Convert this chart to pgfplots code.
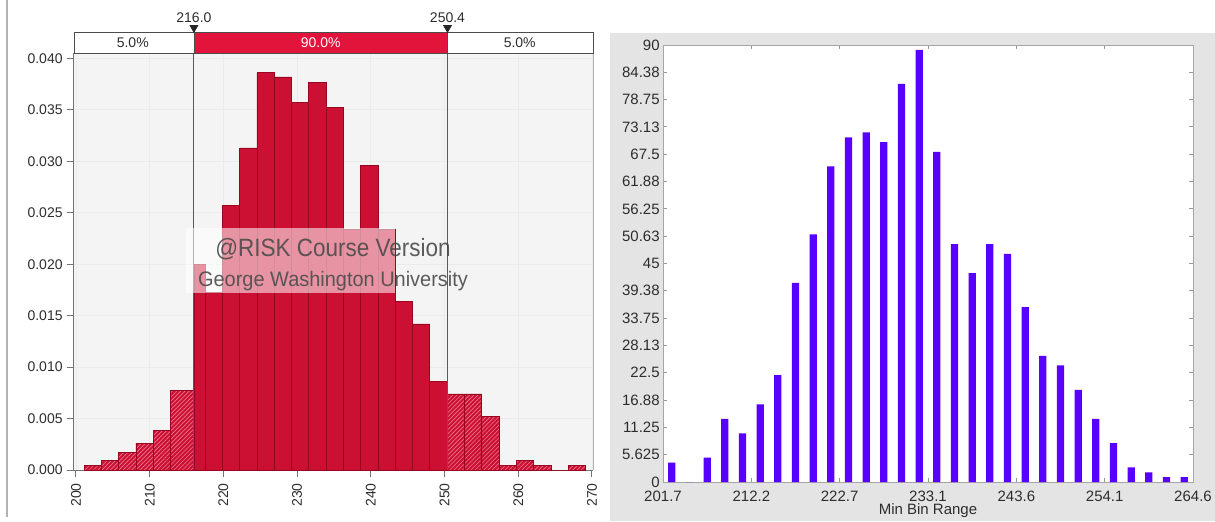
\documentclass[border=0pt]{standalone}
\usepackage{fontspec}
\setmainfont{Liberation Sans}
\newfontfamily\wmA{Liberation Sans}[FakeStretch=0.9]
\newfontfamily\wmB{Liberation Sans}[FakeStretch=0.95]
\usepackage{pgfplots}
\pgfplotsset{compat=1.18}
\usetikzlibrary{patterns.meta}
\definecolor{barred}{RGB}{204,16,52}
\definecolor{baredge}{RGB}{150,6,32}
\definecolor{bandred}{RGB}{226,20,60}
\definecolor{hatchline}{RGB}{236,120,142}
\definecolor{plotbg}{RGB}{244,244,244}
\definecolor{rightbg}{RGB}{228,228,228}
\definecolor{binblue}{RGB}{88,0,255}
\definecolor{txt}{RGB}{45,45,45}
\definecolor{wmtxt}{RGB}{75,75,75}

\begin{document}
\begin{tikzpicture}[x=1pt,y=1pt]
\useasboundingbox (0,0) rectangle (607.5,260.5);
\fill[rightbg] (305,0) rectangle (607.5,244);
\draw[black!30, line width=0.6pt] (3.5,2) -- (3.5,260.5);

% ---------------- left: @RISK density histogram ----------------
\begin{axis}[
  at={(37pt,25.5pt)}, anchor=south west, scale only axis,
  width=259.5pt, height=208.35pt,
  xmin=199.73, xmax=270.14, ymin=0, ymax=0.0405,
  clip=false, scaled y ticks=false, scaled x ticks=false,
  axis background/.style={fill=plotbg},
  axis lines*=left,
  axis line style={black!55, line width=0.5pt},
  tick align=outside, major tick length=3.5pt,
  tick style={black!55, line width=0.5pt},
  grid=major, grid style={draw=black!8, line width=0.4pt},
  xtick={200,210,220,230,240,250,260,270},
  xticklabels={200,210,220,230,240,250,260,270},
  ytick={0,0.005,0.01,0.015,0.02,0.025,0.03,0.035,0.04},
  yticklabels={0.000,0.005,0.010,0.015,0.020,0.025,0.030,0.035,0.040},
  xticklabel style={rotate=90, anchor=east, inner sep=0pt, font=\fontsize{7}{8}\selectfont, text=txt},
  yticklabel style={anchor=east, inner sep=0pt, font=\fontsize{7}{8}\selectfont, text=txt},
  xticklabel shift=3pt, yticklabel shift=2pt,
]
% left tail (hatched)
\addplot[ybar interval, fill=barred, draw=baredge, line width=0.3pt,
  postaction={pattern={Lines[angle=45,distance=1.5pt,line width=0.3pt]}, pattern color=hatchline}]
  coordinates {(201.10,0.00043) (203.45,0.00090) (205.79,0.00172) (208.14,0.00262)
               (210.48,0.00382) (212.83,0.00772) (216.0,0)};
% central 90% (solid)
\addplot[ybar interval, fill=barred, draw=baredge, line width=0.4pt]
  coordinates {(216.0,0.0200) (217.52,0.0173) (219.86,0.0257) (222.21,0.0313)
               (224.55,0.0386) (226.90,0.0382) (229.24,0.0357) (231.59,0.0377)
               (233.93,0.0352) (236.28,0.0234) (238.62,0.0296) (240.97,0.0234)
               (243.31,0.0164) (245.66,0.0142) (248.00,0.0086) (250.4,0)};
% right tail (hatched)
\addplot[ybar interval, fill=barred, draw=baredge, line width=0.3pt,
  postaction={pattern={Lines[angle=45,distance=1.5pt,line width=0.3pt]}, pattern color=hatchline}]
  coordinates {(250.4,0.0074) (252.69,0.0074) (255.04,0.0052) (257.38,0.00043)
               (259.73,0.00090) (262.07,0.00043) (264.42,0) (266.76,0.00043) (269.11,0)};
% right border
\draw[black!30, line width=0.5pt] (rel axis cs:1,0) -- (rel axis cs:1,1);
% delimiter lines
\addplot[black!65, line width=0.5pt] coordinates {(216.0,0) (216.0,0.04256)};
\addplot[black!65, line width=0.5pt] coordinates {(250.4,0) (250.4,0.04256)};
% delimiter band
\addplot[fill=white, draw=black!70, line width=0.4pt] coordinates {(199.73,0.0405) (216.0,0.0405) (216.0,0.04256) (199.73,0.04256)} -- cycle;
\addplot[fill=bandred, draw=black!70, line width=0.4pt] coordinates {(216.0,0.0405) (250.4,0.0405) (250.4,0.04256) (216.0,0.04256)} -- cycle;
\addplot[fill=white, draw=black!70, line width=0.4pt] coordinates {(250.4,0.0405) (270.14,0.0405) (270.14,0.04256) (250.4,0.04256)} -- cycle;
\node[font=\fontsize{7}{8}\selectfont, text=txt] at (axis cs:207.7,0.04153) {5.0\%};
\node[font=\fontsize{7}{8}\selectfont, text=white] at (axis cs:233.2,0.04153) {90.0\%};
\node[font=\fontsize{7}{8}\selectfont, text=txt] at (axis cs:260.2,0.04153) {5.0\%};
% markers
\addplot[only marks, mark=triangle*, mark size=2.2pt, mark options={rotate=180, fill=black!85, draw=black!85}]
  coordinates {(216.0,0.04298) (250.4,0.04298)};
\node[font=\fontsize{7}{8}\selectfont, text=txt] at (axis cs:216.0,0.04401) {216.0};
\node[font=\fontsize{7}{8}\selectfont, text=txt] at (axis cs:250.4,0.04401) {250.4};
% watermark box
\fill[white, fill opacity=0.55] (axis cs:214.9,0.0172) rectangle (axis cs:243.3,0.0235);
\end{axis}

% watermark text
\node[anchor=base, text=wmtxt, text opacity=0.9, inner sep=0pt] at (166.5,132.5) {\wmA\fontsize{12.5}{14}\selectfont @RISK Course Version};
\node[anchor=base, text=wmtxt, text opacity=0.9, inner sep=0pt] at (166.5,117.5) {\wmB\fontsize{10.5}{12}\selectfont George Washington University};

% ---------------- right: frequency histogram ----------------
\begin{axis}[
  at={(331.5pt,19.5pt)}, anchor=south west, scale only axis,
  width=265pt, height=218.5pt,
  xmin=-0.5, xmax=29.5, ymin=0, ymax=90,
  scaled y ticks=false, scaled x ticks=false,
  axis background/.style={fill=white},
  axis line style={black!35, line width=0.5pt},
  tick align=inside, major tick length=2pt,
  tick style={black!40, line width=0.5pt},
  xtick={-0.5,4.5,9.5,14.5,19.5,24.5,29.5},
  xticklabels={201.7,212.2,222.7,233.1,243.6,254.1,264.6},
  ytick={0,5.625,11.25,16.875,22.5,28.125,33.75,39.375,45,50.625,56.25,61.875,67.5,73.125,78.75,84.375,90},
  yticklabels={0,5.625,11.25,16.88,22.5,28.13,33.75,39.38,45,50.63,56.25,61.88,67.5,73.13,78.75,84.38,90},
  xticklabel style={anchor=north, inner sep=0pt, font=\fontsize{7.5}{8.5}\selectfont, text=txt},
  yticklabel style={anchor=east, inner sep=0pt, font=\fontsize{7.5}{8.5}\selectfont, text=txt},
  xticklabel shift=4.5pt, yticklabel shift=1.5pt,
  xlabel={Min Bin Range},
  xlabel style={at={(axis description cs:0.5,0)}, anchor=north, yshift=-10.5pt, inner sep=0pt, font=\fontsize{7.5}{8.5}\selectfont, text=txt},
]
\addplot[ybar, bar width=3.65pt, fill=binblue, draw=none]
  coordinates {(0,4) (1,0) (2,5) (3,13) (4,10) (5,16) (6,22) (7,41) (8,51) (9,65)
               (10,71) (11,72) (12,70) (13,82) (14,89) (15,68) (16,49) (17,43) (18,49) (19,47)
               (20,36) (21,26) (22,24) (23,19) (24,13) (25,8) (26,3) (27,2) (28,1) (29,1)};
\end{axis}
\end{tikzpicture}
\end{document}
